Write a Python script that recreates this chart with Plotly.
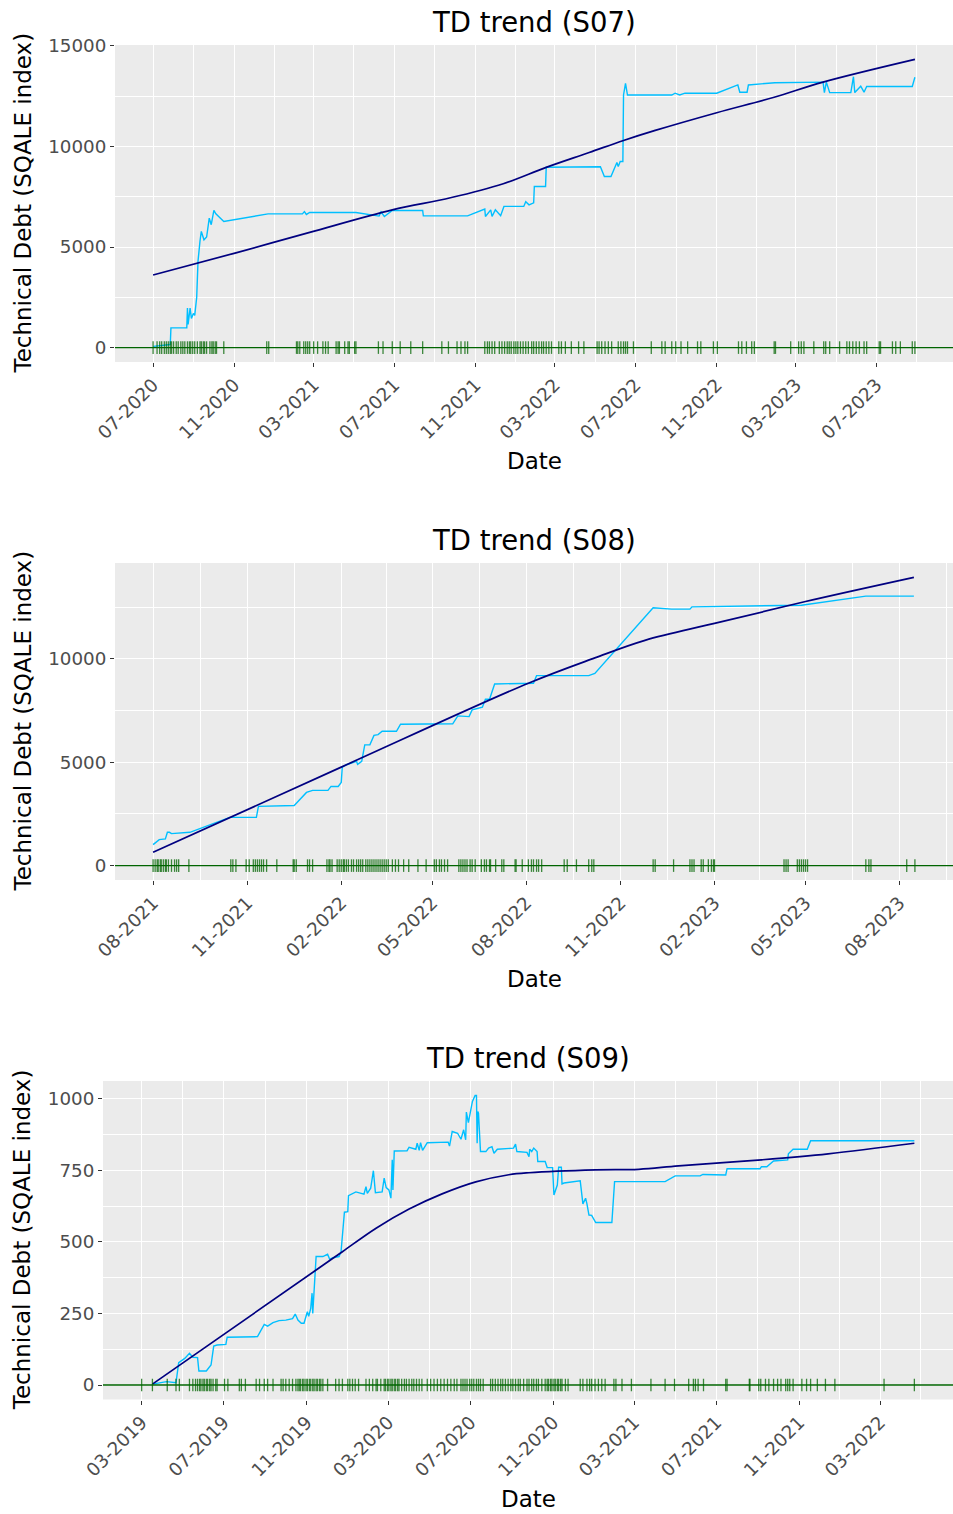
import pandas as pd
import plotly.graph_objects as go

# ---------------- data ----------------
# S07 : days since start, value
S07_START = "2020-07-01"
S07_TD_DAYS = [0.5, 11, 26, 27, 33, 51, 52, 53, 56, 58, 61, 63, 66, 68, 71, 73, 77, 81, 85, 88,
               92, 95, 107, 174, 226, 229, 232, 237, 307, 342, 345, 350, 362, 408, 409, 476,
               502, 503, 511, 513, 518, 526, 531, 561, 564, 569, 576, 577, 594, 595, 677, 683,
               693, 702, 704, 707, 711, 712, 715, 718, 785, 790, 797, 805, 853, 885, 888, 899,
               901, 941, 1014, 1016, 1019, 1024, 1056, 1060, 1062, 1071, 1076, 1080, 1149, 1153]
S07_TD = [60, 100, 150, 980, 980, 980, 1970, 1150, 1970, 1450, 1700, 1600, 2500, 4300, 5300,
          5775, 5360, 5500, 6440, 6110, 6820, 6650, 6270, 6650, 6650, 6760, 6620, 6720, 6720,
          6540, 6750, 6520, 6820, 6820, 6550, 6550, 6890, 6520, 6850, 6520, 6850, 6560, 7020,
          7020, 7250, 7100, 7200, 8010, 8010, 8970, 8990, 8510, 8510, 9200, 9000, 9250, 9250,
          12560, 13140, 12560, 12560, 12650, 12560, 12650, 12650, 13060, 12700, 12700, 13060,
          13170, 13200, 12680, 13200, 12680, 12680, 13470, 12680, 13000, 12700, 12980, 12980, 13440]
S07_TREND_DAYS = [0, 124, 237, 362, 450, 530, 594, 660, 712, 760, 853, 940, 1014, 1153]
S07_TREND = [3610, 4700, 5730, 6850, 7450, 8150, 8950, 9700, 10300, 10800, 11680, 12450, 13200, 14330]
S07_COMMIT_DAYS = [0, 6, 10, 13, 17, 20, 23, 26, 28, 31, 35, 38, 42, 45, 48, 52, 55, 57, 60, 63, 67,
                   71, 73, 76, 78, 81, 86, 89, 91, 94, 96, 107, 172, 175, 217, 219, 222, 228, 231,
                   234, 237, 243, 249, 257, 261, 265, 277, 280, 282, 290, 295, 297, 305, 307, 341,
                   348, 362, 374, 390, 408, 437, 447, 460, 466, 472, 476, 502, 506, 509, 513, 517,
                   524, 528, 532, 536, 539, 542, 546, 549, 552, 556, 560, 564, 568, 573, 576, 580,
                   584, 588, 591, 595, 599, 603, 614, 618, 624, 633, 644, 652, 672, 675, 679, 684,
                   689, 694, 704, 708, 712, 715, 718, 727, 754, 770, 775, 785, 791, 799, 809, 824,
                   829, 848, 854, 886, 891, 898, 906, 910, 940, 942, 965, 977, 981, 985, 1000, 1015,
                   1018, 1024, 1039, 1050, 1054, 1059, 1064, 1069, 1076, 1080, 1099, 1101, 1119,
                   1124, 1131, 1149, 1153]
S07_XTICKS = ["2020-07-01", "2020-11-01", "2021-03-01", "2021-07-01", "2021-11-01", "2022-03-01",
              "2022-07-01", "2022-11-01", "2023-03-01", "2023-07-01"]
S07_YTICKS = [0, 5000, 10000, 15000]

# S08
S08_START = "2021-08-01"
S08_TD_DAYS = [0, 3, 6, 12, 14, 16, 18, 36, 52, 75, 101, 103, 138, 150, 156, 171, 174, 181, 184,
               185, 189, 199, 200, 204, 207, 212, 216, 220, 224, 238, 242, 273, 293, 298, 309, 312,
               322, 325, 329, 334, 368, 372, 375, 426, 432, 489, 507, 525, 527, 634, 697, 744]
S08_TD = [1014, 1125, 1256, 1290, 1610, 1610, 1546, 1610, 1900, 2335, 2335, 2865, 2910, 3540, 3640,
          3640, 3830, 3830, 4025, 4765, 4880, 5040, 4900, 5040, 5840, 5840, 6300, 6340, 6500, 6500,
          6840, 6860, 6860, 7245, 7210, 7535, 7665, 8050, 8050, 8790, 8825, 8825, 9190, 9190, 9300,
          12480, 12410, 12410, 12520, 12600, 13040, 13040]
S08_TREND_DAYS = [0, 184, 367, 432, 481, 549, 637, 744]
S08_TREND = [645, 4765, 8825, 10050, 10900, 11720, 12765, 13945]
S08_COMMIT_DAYS = [0, 2, 4, 5, 7, 8, 10, 12, 13, 15, 18, 21, 23, 25, 35, 76, 78, 81, 91, 94, 98, 100,
                   102, 104, 106, 108, 111, 121, 137, 138, 140, 151, 153, 156, 170, 172, 173, 175,
                   180, 182, 184, 186, 187, 189, 191, 194, 196, 199, 201, 203, 205, 208, 210, 212,
                   214, 216, 218, 220, 222, 224, 226, 228, 230, 234, 237, 240, 245, 250, 259, 267,
                   275, 277, 280, 282, 285, 288, 299, 301, 303, 305, 307, 310, 312, 315, 321, 324,
                   326, 329, 330, 335, 341, 343, 354, 355, 361, 367, 370, 372, 375, 377, 380, 402,
                   405, 414, 426, 429, 431, 489, 491, 509, 525, 527, 529, 536, 538, 543, 546, 548,
                   549, 617, 619, 621, 630, 632, 634, 636, 638, 640, 697, 700, 702, 737, 745]
S08_XTICKS = ["2021-08-01", "2021-11-01", "2022-02-01", "2022-05-01", "2022-08-01", "2022-11-01",
              "2023-02-01", "2023-05-01", "2023-08-01"]
S08_YTICKS = [0, 5000, 10000]

# S09
S09_START = "2019-03-01"
S09_TD_DAYS = [16, 37, 51, 55, 64, 71, 76, 83, 85, 96, 103, 107, 112, 125, 127, 172, 182, 187, 195,
               204, 214, 224, 228, 232, 237, 241, 246, 248, 251, 253, 254, 259, 269, 276, 279, 284,
               293, 296, 301, 306, 307, 318, 330, 333, 335, 340, 344, 347, 357, 360, 363, 367, 370,
               372, 373, 375, 394, 397, 407, 409, 412, 414, 417, 424, 455, 457, 461, 469, 474, 478,
               481, 482, 485, 491, 495, 497, 498, 499, 500, 503, 511, 515, 520, 523, 528, 552, 555,
               557, 572, 575, 576, 579, 582, 587, 588, 599, 602, 610, 612, 617, 619, 623, 624, 627,
               651, 655, 659, 661, 664, 668, 674, 698, 702, 777, 792, 829, 833, 867, 869, 918, 920,
               928, 938, 959, 960, 967, 988, 993, 1147]
S09_TD = [3, 12, 8, 78, 93, 111, 97, 96, 49, 49, 70, 136, 140, 142, 167, 169, 212, 206, 218, 225,
          227, 232, 248, 227, 216, 216, 256, 240, 268, 321, 250, 449, 449, 457, 440, 445, 449, 466,
          604, 606, 662, 675, 667, 693, 670, 688, 749, 672, 675, 723, 690, 682, 653, 787, 682, 818,
          819, 831, 824, 845, 820, 847, 820, 847, 849, 835, 886, 880, 859, 892, 857, 954, 917, 991,
          1012, 1012, 845, 956, 950, 816, 816, 828, 833, 810, 824, 828, 842, 816, 813, 798, 824,
          816, 828, 816, 781, 781, 760, 760, 664, 699, 761, 761, 703, 706, 714, 633, 653, 633, 594,
          593, 568, 568, 711, 711, 731, 731, 736, 734, 756, 756, 763, 763, 783, 787, 808, 824, 824,
          854, 854]
S09_TREND_DAYS = [16, 259, 298, 348, 397, 446, 496, 545, 575, 674, 738, 797, 920, 1019, 1147]
S09_TREND = [3, 402, 466, 548, 615, 668, 710, 735, 742, 752, 754, 766, 787, 808, 845]
S09_COMMIT_DAYS = [0, 16, 38, 51, 56, 71, 76, 80, 83, 86, 88, 91, 93, 96, 98, 101, 103, 106, 110, 112,
                   123, 128, 145, 148, 154, 170, 175, 182, 187, 195, 207, 210, 214, 219, 224, 229,
                   232, 234, 236, 239, 241, 244, 246, 249, 251, 254, 256, 259, 261, 264, 266, 269,
                   276, 288, 293, 298, 306, 309, 313, 317, 322, 333, 338, 343, 348, 350, 355, 360,
                   362, 365, 367, 370, 372, 375, 377, 380, 382, 386, 390, 393, 397, 401, 404, 408,
                   412, 416, 424, 429, 434, 439, 444, 449, 454, 459, 464, 468, 474, 477, 480, 483,
                   487, 490, 493, 497, 500, 503, 507, 518, 521, 525, 529, 533, 536, 540, 544, 548,
                   551, 555, 559, 562, 567, 572, 575, 579, 582, 586, 589, 594, 599, 602, 604, 607,
                   609, 612, 614, 617, 619, 622, 624, 629, 633, 651, 655, 661, 665, 668, 673, 678,
                   683, 688, 701, 704, 713, 727, 756, 777, 791, 812, 819, 822, 826, 834, 867, 869,
                   902, 903, 916, 919, 926, 931, 938, 944, 949, 956, 959, 962, 967, 980, 987, 993,
                   1003, 1015, 1029, 1102, 1147]
S09_XTICKS = ["2019-03-01", "2019-07-01", "2019-11-01", "2020-03-01", "2020-07-01", "2020-11-01",
              "2021-03-01", "2021-07-01", "2021-11-01", "2022-03-01"]
S09_YTICKS = [0, 250, 500, 750, 1000]

# ---------------- style / layout ----------------
W, H = 953, 1514
FONT = "DejaVu Sans"
TITLE_SIZE = 27.5
AXTITLE_SIZE = 23
TICK_SIZE = 18.3
BLUE = "#00BFFF"
NAVY = "#000080"
GREEN = "#006400"
RUG = "rgba(0,100,0,0.75)"

panels = [
    dict(name="S07", start=S07_START, td_days=S07_TD_DAYS, td=S07_TD,
         tr_days=S07_TREND_DAYS, tr=S07_TREND, commits=S07_COMMIT_DAYS,
         xticks=S07_XTICKS, yticks=S07_YTICKS, px_left=115, px_top=45, px_bottom=362),
    dict(name="S08", start=S08_START, td_days=S08_TD_DAYS, td=S08_TD,
         tr_days=S08_TREND_DAYS, tr=S08_TREND, commits=S08_COMMIT_DAYS,
         xticks=S08_XTICKS, yticks=S08_YTICKS, px_left=115, px_top=563, px_bottom=880),
    dict(name="S09", start=S09_START, td_days=S09_TD_DAYS, td=S09_TD,
         tr_days=S09_TREND_DAYS, tr=S09_TREND, commits=S09_COMMIT_DAYS,
         xticks=S09_XTICKS, yticks=S09_YTICKS, px_left=103, px_top=1081, px_bottom=1399.5),
]


def to_dates(start, days):
    return pd.Timestamp(start) + pd.to_timedelta(days, unit="D")


def midpoints(vals):
    vals = list(vals)
    step0 = vals[1] - vals[0]
    step1 = vals[-1] - vals[-2]
    ext = [vals[0] - step0] + vals + [vals[-1] + step1]
    return [a + (b - a) / 2 for a, b in zip(ext[:-1], ext[1:])]


fig = go.Figure()
layout = dict(width=W, height=H, margin=dict(l=0, r=0, t=0, b=0, pad=0, autoexpand=False),
              paper_bgcolor="white", plot_bgcolor="#EBEBEB", showlegend=False,
              font=dict(family=FONT, color="black"))
annotations = []

for i, p in enumerate(panels, start=1):
    xa = "x" if i == 1 else f"x{i}"
    ya = "y" if i == 1 else f"y{i}"
    td_dates = to_dates(p["start"], p["td_days"])
    tr_dates = to_dates(p["start"], p["tr_days"])
    cm_dates = to_dates(p["start"], p["commits"])

    # ggplot-like 5% expansion
    all_dates = list(td_dates) + list(tr_dates) + list(cm_dates)
    dmin, dmax = min(all_dates), max(all_dates)
    pad = (dmax - dmin) * 0.05
    xr = [dmin - pad, dmax + pad]
    vmax = max(max(p["td"]), max(p["tr"]))
    vmin = 0
    ypad = (vmax - vmin) * 0.05
    yr = [vmin - ypad, vmax + ypad]

    fig.add_trace(go.Scatter(x=td_dates, y=p["td"], mode="lines", xaxis=xa, yaxis=ya,
                             line=dict(color=BLUE, width=1.4), hoverinfo="skip"))
    fig.add_trace(go.Scatter(x=tr_dates, y=p["tr"], mode="lines", xaxis=xa, yaxis=ya,
                             line=dict(color=NAVY, width=1.7, shape="spline", smoothing=1.0),
                             hoverinfo="skip"))
    # horizontal reference line at 0 across the whole panel
    fig.add_trace(go.Scatter(x=xr, y=[0, 0], mode="lines", xaxis=xa, yaxis=ya,
                             line=dict(color=GREEN, width=1.4), hoverinfo="skip"))
    fig.add_trace(go.Scatter(x=cm_dates, y=[0] * len(cm_dates), mode="markers", xaxis=xa, yaxis=ya,
                             marker=dict(symbol="line-ns", size=9,
                                         line=dict(width=1.3, color=RUG)),
                             hoverinfo="skip"))

    xt = [pd.Timestamp(t) for t in p["xticks"]]
    xminor = midpoints(xt)
    yminor = midpoints(p["yticks"])

    dom_x = [p["px_left"] / W, 1.0]
    dom_y = [1 - p["px_bottom"] / H, 1 - p["px_top"] / H]

    xkey = "xaxis" if i == 1 else f"xaxis{i}"
    ykey = "yaxis" if i == 1 else f"yaxis{i}"
    layout[xkey] = dict(
        type="date", domain=dom_x, range=xr, anchor=ya, automargin=False,
        tickmode="array", tickvals=xt, ticktext=[t.strftime("%m-%Y") for t in xt],
        tickangle=-45, ticks="outside", ticklen=4, tickwidth=1, tickcolor="#333333",
        tickfont=dict(family=FONT, size=TICK_SIZE, color="#4D4D4D"),
        showgrid=True, gridcolor="white", gridwidth=1.1, zeroline=False, showline=False,
        minor=dict(tickmode="array", tickvals=xminor, showgrid=True, gridcolor="white",
                   gridwidth=0.5, ticks=""),
    )
    layout[ykey] = dict(
        domain=dom_y, range=yr, anchor=xa, automargin=False,
        tickmode="array", tickvals=p["yticks"], ticktext=[str(v) for v in p["yticks"]],
        ticks="outside", ticklen=4, tickwidth=1, tickcolor="#333333",
        tickfont=dict(family=FONT, size=TICK_SIZE, color="#4D4D4D"),
        showgrid=True, gridcolor="white", gridwidth=1.1, zeroline=False, showline=False,
        minor=dict(tickmode="array", tickvals=yminor, showgrid=True, gridcolor="white",
                   gridwidth=0.5, ticks=""),
    )

    cx = (dom_x[0] + dom_x[1]) / 2
    annotations.append(dict(text=f"TD trend ({p['name']})", xref="paper", yref="paper",
                            x=cx, y=1 - (p["px_top"] - 23) / H, xanchor="center", yanchor="middle",
                            showarrow=False, font=dict(family=FONT, size=TITLE_SIZE, color="black")))
    annotations.append(dict(text="Date", xref="paper", yref="paper",
                            x=cx, y=1 - (p["px_bottom"] + 99) / H, xanchor="center",
                            yanchor="middle", showarrow=False,
                            font=dict(family=FONT, size=AXTITLE_SIZE, color="black")))
    annotations.append(dict(text="Technical Debt (SQALE index)", xref="paper", yref="paper",
                            x=22 / W, y=(dom_y[0] + dom_y[1]) / 2, xanchor="center",
                            yanchor="middle", textangle=-90, showarrow=False,
                            font=dict(family=FONT, size=AXTITLE_SIZE, color="black")))

layout["annotations"] = annotations
fig.update_layout(**layout)
fig.write_html("out.html")
